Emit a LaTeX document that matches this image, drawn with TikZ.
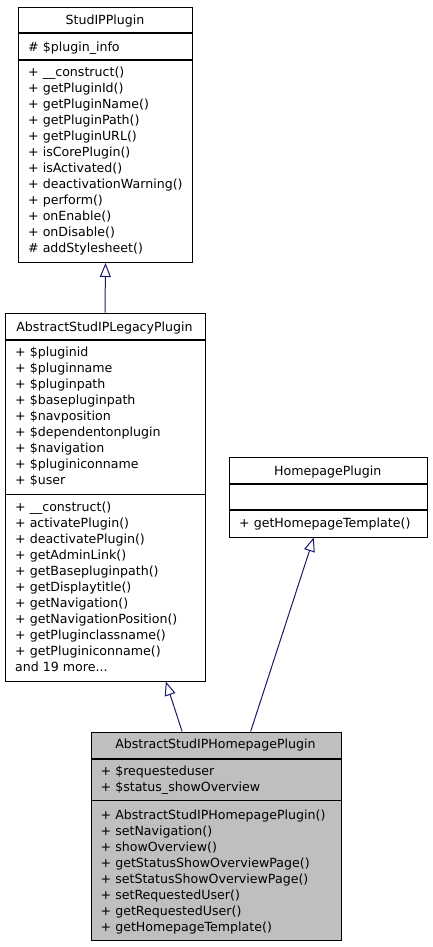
\documentclass[tikz,border=0pt]{standalone}
\usepackage{fontspec}
\setmainfont{DejaVu Sans}
\usetikzlibrary{arrows.meta,calc}
\definecolor{edgeblue}{HTML}{191970}
\definecolor{boxgray}{HTML}{BFBFBF}
\newcommand{\legmoretext}{and 19 more...}
\tikzset{
  classbox/.style={draw=black, line width=1pt, inner sep=0pt, anchor=north west, fill=white},
  sepline/.style={draw=black, line width=1.4pt},
  member/.style={anchor=base west, inner sep=0pt},
  ttl/.style={anchor=base, inner sep=0pt},
  inherit/.style={draw=edgeblue, line width=1pt, -{Triangle[open, length=14pt, width=11pt, fill=white]}}
}
\begin{document}
\begin{tikzpicture}[x=1pt, y=-1pt, font=\fontsize{12.6}{16}\selectfont]
\useasboundingbox (0,0) rectangle (432,947);

% StudIPPlugin
\node[classbox, minimum width=174pt, minimum height=255pt] (spp) at (18,7) {};
\draw[sepline] (18,33) -- (192,33);
\draw[sepline] (18,60) -- (192,60);
\node[ttl] (spp-t) at (105,24.5) {StudIPPlugin};
\node[member] (spp-a0) at (28,51.2) {\# \$plugin\_info};
\foreach \m [count=\i from 0] in {+ \_\_construct(), + getPluginId(), + getPluginName(), + getPluginPath(), + getPluginURL(), + isCorePlugin(), + isActivated(), + deactivationWarning(), + perform(), + onEnable(), + onDisable(), \# addStylesheet()}
  \node[member] (spp-m\i) at (28,{76.2+16*\i}) {\m};

% AbstractStudIPLegacyPlugin
\node[classbox, minimum width=200pt, minimum height=368pt] (leg) at (4.5,312.5) {};
\draw[sepline] (4.5,340) -- (204.5,340);
\draw[sepline] (4.5,494.3) -- (204.5,494.3);
\node[ttl] (leg-t) at (104.5,331) {AbstractStudIPLegacyPlugin};
\foreach \m [count=\i from 0] in {+ \$pluginid, + \$pluginname, + \$pluginpath, + \$basepluginpath, + \$navposition, + \$dependentonplugin, + \$navigation, + \$pluginiconname, + \$user}
  \node[member] (leg-a\i) at (15,{356.2+16*\i}) {\m};
\foreach \m [count=\i from 0] in {+ \_\_construct(), + activatePlugin(), + deactivatePlugin(), + getAdminLink(), + getBasepluginpath(), + getDisplaytitle(), + getNavigation(), + getNavigationPosition(), + getPluginclassname(), + getPluginiconname(), \legmoretext}
  \node[member] (leg-m\i) at (15,{511.8+16*\i}) {\m};

% HomepagePlugin
\node[classbox, minimum width=197.5pt, minimum height=80pt] (hp) at (229,456.5) {};
\draw[sepline] (229,484) -- (426.5,484);
\draw[sepline] (229,510) -- (426.5,510);
\node[ttl] (hp-t) at (327.75,475) {HomepagePlugin};
\node[member] (hp-m0) at (239,527.8) {+ getHomepageTemplate()};

% AbstractStudIPHomepagePlugin
\node[classbox, fill=boxgray, minimum width=250pt, minimum height=208pt] (ahp) at (90.5,731.5) {};
\draw[sepline] (90.5,759) -- (340.5,759);
\draw[sepline] (90.5,800.7) -- (340.5,800.7);
\node[ttl] (ahp-t) at (215.5,748.8) {AbstractStudIPHomepagePlugin};
\foreach \m [count=\i from 0] in {+ \$requesteduser, + \$status\_showOverview}
  \node[member] (ahp-a\i) at (100.5,{775.2+16*\i}) {\m};
\foreach \m [count=\i from 0] in {+ AbstractStudIPHomepagePlugin(), + setNavigation(), + showOverview(), + getStatusShowOverviewPage(), + setStatusShowOverviewPage(), + setRequestedUser(), + getRequestedUser(), + getHomepageTemplate()}
  \node[member] (ahp-m\i) at (100.5,{819.5+16*\i}) {\m};

% inheritance connectors
\draw[inherit] (leg.north) -- (spp.south);
\draw[inherit] ($(ahp.north west)!0.365!(ahp.north east)$) -- ($(leg.south west)!0.8025!(leg.south east)$);
\draw[inherit] ($(ahp.north west)!0.638!(ahp.north east)$) -- ($(hp.south west)!0.427!(hp.south east)$);
\end{tikzpicture}
\end{document}
